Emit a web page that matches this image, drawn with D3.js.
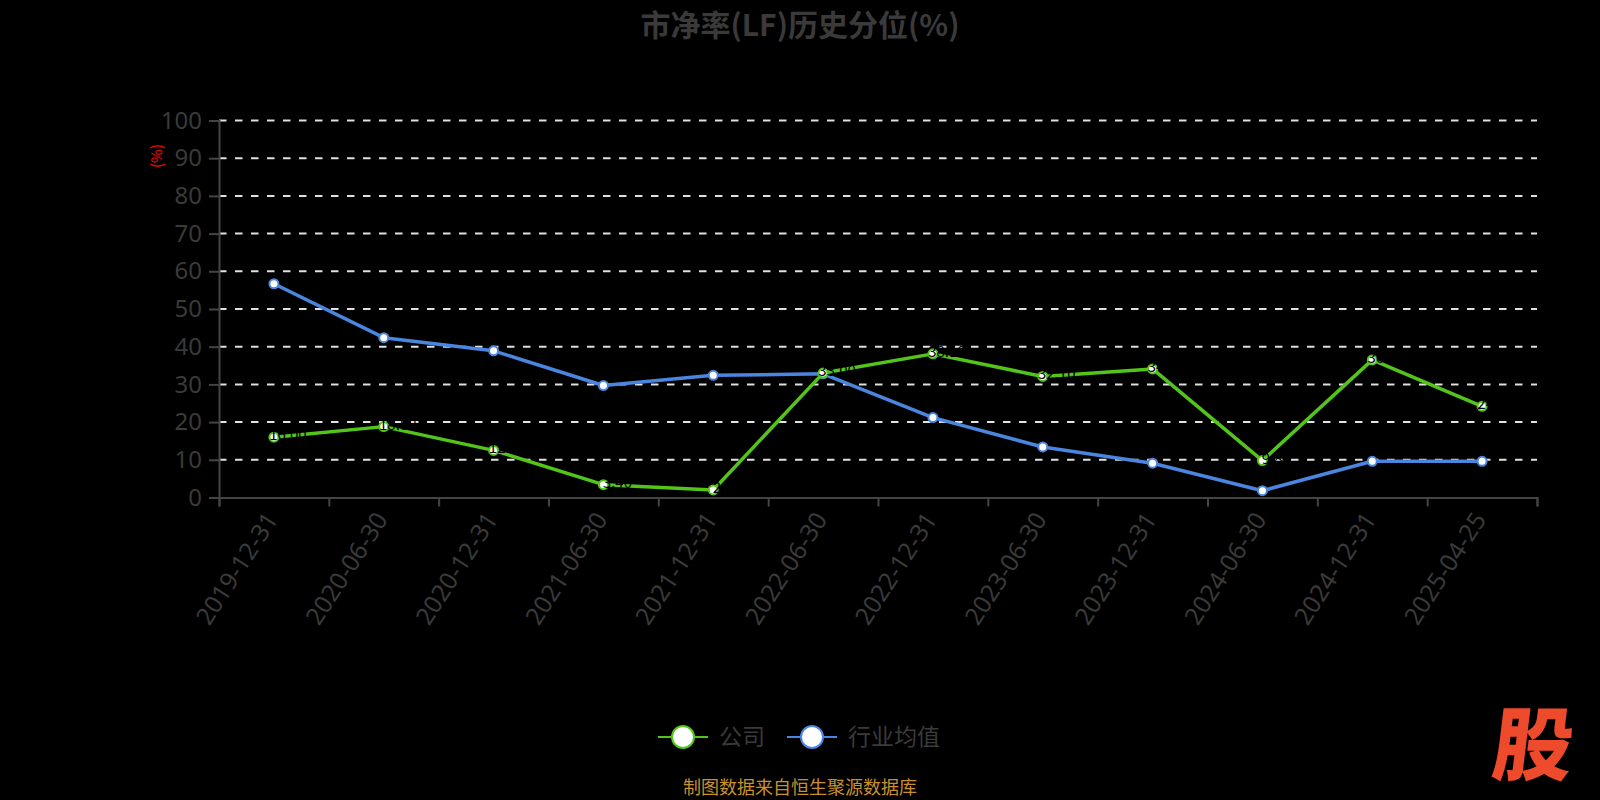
<!DOCTYPE html>
<html>
<head>
<meta charset="utf-8">
<script src="https://cdn.jsdelivr.net/npm/d3@7"></script>
<style>
  html, body { margin: 0; padding: 0; background: #000; }
  svg { display: block; font-family: "Noto Sans CJK SC", "Noto Sans", sans-serif; }
</style>
</head>
<body>
<div id="app"></div>
<script>
const dates = ['2019-12-31', '2020-06-30', '2020-12-31', '2021-06-30', '2021-12-31', '2022-06-30',
  '2022-12-31', '2023-06-30', '2023-12-31', '2024-06-30', '2024-12-31', '2025-04-25'];
const company = [16.0, 18.8, 12.5, 3.4, 2.0, 33.0, 38.1, 32.1, 34.1, 9.8, 36.5, 24.2];
const industry = [56.7, 42.4, 38.9, 29.7, 32.4, 32.8, 21.2, 13.4, 9.1, 1.8, 9.6, 9.6];
const yTicks = [0, 10, 20, 30, 40, 50, 60, 70, 80, 90, 100];
const seriesNames = ['公司', '行业均值'];

const width = 1600;
const height = 800;
const plotLeft = 219;
const plotRight = 1537;
const plotTop = 120.5;
const plotBottom = 497.5;
const green = '#52c41a';
const blue = '#4a86e0';
const textColor = '#3a3a3a';

const svg = d3.select('#app').append('svg')
  .attr('width', width)
  .attr('height', height);

svg.append('rect').attr('width', width).attr('height', height).attr('fill', '#000');

// title
svg.append('text')
  .attr('x', 800).attr('y', 36)
  .attr('text-anchor', 'middle')
  .attr('font-size', 30).attr('font-weight', 'bold')
  .attr('fill', textColor)
  .text('市净率(LF)历史分位(%)');

const x = d3.scaleBand().domain(dates).range([plotLeft, plotRight]);
const xEdge = d3.scaleLinear().domain([0, dates.length]).range([plotLeft, plotRight]);
const y = d3.scaleLinear().domain([0, 100]).range([plotBottom, plotTop]);

// dashed grid
svg.append('g')
  .selectAll('line')
  .data(yTicks.filter(d => d > 0))
  .join('line')
  .attr('x1', plotLeft).attr('x2', plotRight)
  .attr('y1', d => y(d)).attr('y2', d => y(d))
  .attr('stroke', '#e0e0e0')
  .attr('stroke-width', 2)
  .attr('stroke-dasharray', '7.5,8.5');

// y axis
const yAxis = svg.append('g')
  .attr('transform', `translate(${plotLeft},0)`)
  .call(d3.axisLeft(y).tickValues(yTicks).tickSize(10).tickPadding(7));
yAxis.select('.domain').attr('stroke', '#444').attr('stroke-width', 2);
yAxis.selectAll('.tick line').attr('stroke', '#444').attr('stroke-width', 2);
yAxis.selectAll('.tick text')
  .attr('fill', textColor)
  .attr('font-size', 24)
  .attr('font-family', '"Noto Sans", sans-serif');

svg.append('text')
  .attr('transform', 'translate(162,156) rotate(-90)')
  .attr('text-anchor', 'middle')
  .attr('font-size', 15)
  .attr('fill', '#ff0000')
  .text('(%)');

// x axis: ticks on band edges
const xTicks = svg.append('g')
  .attr('transform', `translate(0,${plotBottom})`)
  .call(d3.axisBottom(xEdge).ticks(dates.length).tickSize(9).tickFormat(''));
xTicks.select('.domain').attr('stroke', '#444').attr('stroke-width', 2);
xTicks.selectAll('.tick line').attr('stroke', '#444').attr('stroke-width', 2);

const xAxis = svg.append('g')
  .attr('transform', `translate(0,${plotBottom})`)
  .call(d3.axisBottom(x).tickSize(0).tickPadding(0));
xAxis.select('.domain').remove();
xAxis.selectAll('.tick text')
  .attr('fill', textColor)
  .attr('font-size', 24.5)
  .attr('font-family', '"Noto Sans", sans-serif')
  .attr('text-anchor', 'end')
  .attr('dy', 0)
  .attr('transform', 'translate(5,22) rotate(-57)');

// lines
const line = d3.line()
  .x((d, i) => x(dates[i]) + x.bandwidth() / 2)
  .y(d => y(d));

const drawSeries = (values, color) => {
  svg.append('path')
    .datum(values)
    .attr('d', line)
    .attr('fill', 'none')
    .attr('stroke', color)
    .attr('stroke-width', 3.5)
    .attr('stroke-linejoin', 'round');
  svg.append('g')
    .selectAll('circle')
    .data(values)
    .join('circle')
    .attr('cx', (d, i) => x(dates[i]) + x.bandwidth() / 2)
    .attr('cy', d => y(d))
    .attr('r', 4.5)
    .attr('fill', '#fff')
    .attr('stroke', color)
    .attr('stroke-width', 2);
};

drawSeries(industry, blue);
drawSeries(company, green);

// company labels (black on black, only visible over the lines)
svg.append('g')
  .selectAll('text')
  .data(company)
  .join('text')
  .attr('x', (d, i) => x(dates[i]) + x.bandwidth() / 2 + 14)
  .attr('y', d => y(d) + 3)
  .attr('text-anchor', 'middle')
  .attr('font-size', 15)
  .attr('fill', '#000')
  .text(d => d.toFixed(2));

// legend
const legend = svg.append('g');
const legendItems = [
  { name: seriesNames[0], color: green, x0: 658 },
  { name: seriesNames[1], color: blue, x0: 787 }
];
legendItems.forEach(item => {
  const g = legend.append('g').attr('transform', `translate(${item.x0},737)`);
  g.append('line').attr('x1', 0).attr('x2', 50).attr('stroke', item.color).attr('stroke-width', 2);
  g.append('circle').attr('cx', 25).attr('r', 11).attr('fill', '#fff')
    .attr('stroke', item.color).attr('stroke-width', 2);
  g.append('text').attr('x', 61).attr('y', 8)
    .attr('font-size', 23).attr('fill', textColor).text(item.name);
});

// footer
svg.append('text')
  .attr('x', 800).attr('y', 794)
  .attr('text-anchor', 'middle')
  .attr('font-size', 18)
  .attr('fill', '#c8912a')
  .text('制图数据来自恒生聚源数据库');

// watermark
svg.append('text')
  .attr('transform', 'translate(1530,774) skewX(-7)')
  .attr('text-anchor', 'middle')
  .attr('font-size', 80)
  .attr('font-weight', 900)
  .attr('fill', '#ee4a2c')
  .text('股');
</script>
</body>
</html>
